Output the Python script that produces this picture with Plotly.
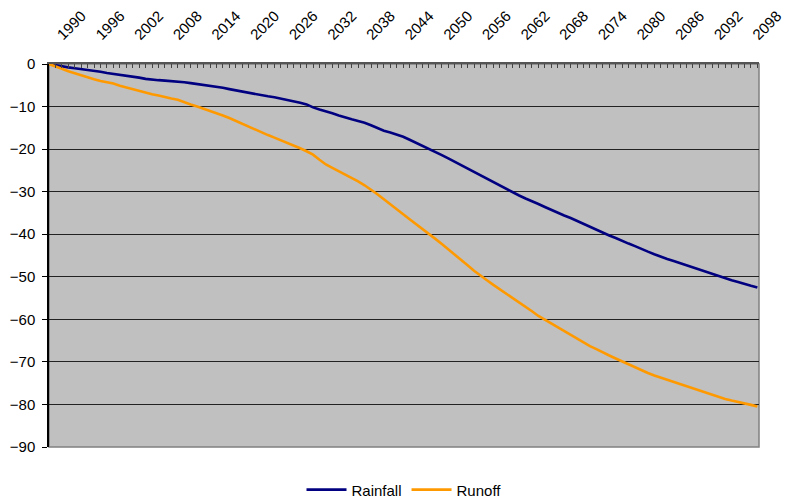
import plotly.graph_objects as go

years = list(range(1990, 2101))

rainfall = [
    0, -0.3, -0.5, -0.8, -1.0, -1.2, -1.3, -1.6, -1.8, -2.1,
    -2.3, -2.5, -2.7, -2.9, -3.2, -3.5, -3.7, -3.8, -3.9, -4.0,
    -4.1, -4.3, -4.5, -4.7, -4.9, -5.1, -5.4, -5.6, -5.9, -6.2,
    -6.5, -6.8, -7.1, -7.4, -7.6, -7.8, -8.1, -8.4, -8.8, -9.1,
    -9.5, -10.2, -10.7, -11.1, -11.6, -12.1, -12.6, -13.0, -13.4, -13.8,
    -14.4, -15.1, -15.7, -16.1, -16.6, -17.1, -17.8, -18.5, -19.2, -19.9,
    -20.6, -21.4, -22.2, -23.0, -23.7, -24.5, -25.3, -26.2, -27.0, -27.8,
    -28.6, -29.4, -30.2, -30.9, -31.6, -32.2, -32.9, -33.6, -34.3, -35.0,
    -35.6, -36.2, -36.9, -37.6, -38.3, -39.0, -39.6, -40.3, -40.9, -41.6,
    -42.2, -42.8, -43.5, -44.1, -44.7, -45.3, -45.8, -46.3, -46.8, -47.3,
    -47.9, -48.4, -48.9, -49.4, -49.9, -50.3, -50.8, -51.2, -51.7, -52.1,
    -52.5,
]

runoff = [
    0, -0.5, -1.1, -1.7, -2.2, -2.7, -3.2, -3.6, -4.0, -4.3,
    -4.6, -5.1, -5.5, -5.9, -6.4, -6.8, -7.1, -7.4, -7.8, -8.1,
    -8.4, -9.0, -9.5, -10.0, -10.5, -11.0, -11.5, -12.1, -12.7, -13.4,
    -14.1, -14.8, -15.4, -16.1, -16.7, -17.3, -17.9, -18.5, -19.2, -19.8,
    -20.5, -21.3, -22.5, -23.6, -24.4, -25.2, -25.9, -26.7, -27.6, -28.5,
    -29.5, -30.6, -31.8, -32.9, -34.1, -35.3, -36.5, -37.6, -38.8, -39.9,
    -41.1, -42.3, -43.5, -44.7, -46.0, -47.3, -48.6, -49.8, -50.8, -51.9,
    -52.9, -53.9, -55.0, -56.0, -57.1, -58.1, -59.2, -60.1, -61.1, -62.0,
    -62.9, -63.8, -64.6, -65.4, -66.3, -67.0, -67.8, -68.5, -69.2, -69.9,
    -70.6, -71.3, -71.9, -72.6, -73.2, -73.7, -74.3, -74.8, -75.3, -75.8,
    -76.3, -76.8, -77.3, -77.7, -78.2, -78.7, -79.1, -79.4, -79.8, -80.1,
    -80.5,
]

tick_years = list(range(1990, 2101, 6))
y_ticks = list(range(-90, 1, 10))

font_family = "Liberation Sans, Arial, sans-serif"

fig = go.Figure()
fig.add_trace(go.Scatter(x=years, y=rainfall, mode="lines", name="Rainfall",
                         line=dict(color="#000080", width=2.6)))
fig.add_trace(go.Scatter(x=years, y=runoff, mode="lines", name="Runoff",
                         line=dict(color="#FF9900", width=2.6)))

fig.update_layout(
    width=785, height=500,
    margin=dict(l=49, r=26, t=64, b=53, autoexpand=False),
    paper_bgcolor="white",
    plot_bgcolor="#C0C0C0",
    font=dict(family=font_family, size=14, color="black"),
    showlegend=True,
    legend=dict(orientation="h", x=0.5, xanchor="center", y=-0.112, yanchor="middle",
                font=dict(size=15), itemwidth=40, traceorder="normal",
                bgcolor="rgba(0,0,0,0)"),
    shapes=[dict(type="rect", xref="paper", yref="paper", x0=0, x1=1, y0=0, y1=1,
                 line=dict(color="#808080", width=1.5), fillcolor="rgba(0,0,0,0)", layer="below")],
)

fig.update_xaxes(
    range=[1990, 2100.25], side="top", tickmode="array", tickvals=tick_years,
    ticktext=[str(y) for y in tick_years], tickangle=-45,
    ticks="inside", ticklen=4, tickcolor="#444", tickfont=dict(size=15),
    ticklabelshift=9, ticklabelstandoff=13, ticklabeloverflow="allow",
    minor=dict(dtick=1, tick0=1990, ticks="inside", ticklen=4, tickcolor="#444", showgrid=False),
    showgrid=False, showline=True, linecolor="#555", linewidth=2, zeroline=False,
)
fig.update_yaxes(
    range=[-90, 0], tickmode="array", tickvals=y_ticks, ticks="outside", ticklen=5,
    tickcolor="black", tickfont=dict(size=15), ticklabelstandoff=4,
    showgrid=True, gridcolor="#222", gridwidth=1.2, showline=True, linecolor="black",
    linewidth=1.5, zeroline=False,
)

fig.write_html("out.html")
